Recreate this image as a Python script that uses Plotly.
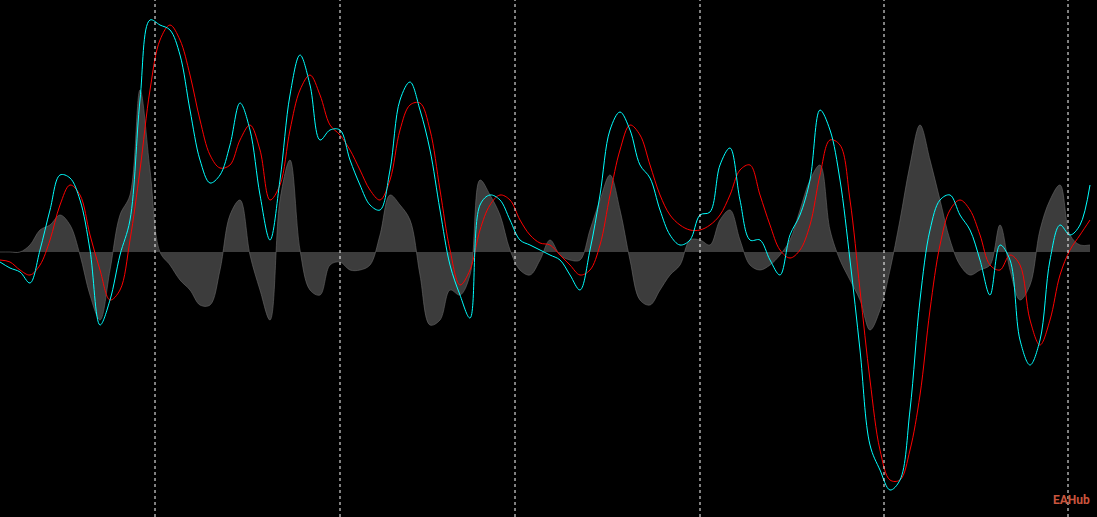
import plotly.graph_objects as go

x_idx = list(range(0, 110))
fast_px = [262,268,272,283,250,210,175,178,200,250,325,300,255,220,100,20,25,30,55,110,
           160,183,175,145,103,130,195,240,180,95,55,85,140,130,130,160,185,205,210,170,
           100,82,110,150,210,265,295,318,205,195,200,220,240,245,250,255,260,275,290,250,
           195,130,112,130,165,178,210,235,245,240,215,212,165,148,200,240,240,260,275,235,
           215,180,110,130,180,260,350,445,470,490,480,410,300,230,200,195,215,230,260,295,
           245,260,340,365,340,260,225,235,225,185]
slow_px = [260,262,270,275,265,240,205,185,195,235,270,300,290,240,170,90,40,25,40,75,
           120,155,168,165,140,125,150,200,185,130,90,75,95,125,135,150,170,190,200,180,
           130,105,103,130,190,250,285,270,230,205,195,200,220,235,243,245,255,265,275,270,
           245,195,150,125,135,165,195,215,225,230,230,225,215,195,170,165,195,225,250,258,
           250,225,175,140,145,200,290,380,450,480,480,450,395,310,245,210,200,210,235,265,
           270,255,265,320,345,320,275,250,235,220]
hist_px = [252,252,252,245,230,225,215,225,255,295,320,270,215,195,90,170,252,265,280,290,
           305,305,270,215,200,255,290,320,200,160,250,290,295,265,262,270,270,265,235,195,
           205,220,275,325,320,290,295,275,180,195,215,250,270,275,260,240,255,260,260,230,
           200,175,210,260,300,305,290,275,265,240,240,245,220,210,240,265,270,265,255,240,
           210,180,165,230,260,280,300,330,310,270,220,165,125,160,200,240,265,275,270,265,
           225,270,300,285,230,200,185,235,245,245]
grid_x = [15.5, 34.0, 51.5, 70.0, 88.4, 106.8]

fast = [252 - v for v in fast_px]
slow = [252 - v for v in slow_px]
hist = [252 - v for v in hist_px]

fig = go.Figure()
fig.add_trace(go.Scatter(x=x_idx, y=hist, fill="tozeroy", mode="lines",
                         line=dict(width=0.6, color="#6a6a6a", shape="spline"),
                         fillcolor="rgba(100,100,100,0.6)"))
fig.add_trace(go.Scatter(x=x_idx, y=slow, mode="lines",
                         line=dict(color="#ff0000", width=1, shape="spline")))
fig.add_trace(go.Scatter(x=x_idx, y=fast, mode="lines",
                         line=dict(color="#00ffff", width=1, shape="spline")))

for gx in grid_x:
    fig.add_vline(x=gx, line=dict(color="white", width=1, dash="dot"))

fig.add_annotation(text="<b>EAHub</b>", xref="paper", yref="paper", x=0.995, y=0.015,
                   xanchor="right", yanchor="bottom", showarrow=False,
                   font=dict(color="#c8553d", size=12, family="Roboto"))

fig.update_layout(width=1097, height=517, margin=dict(l=0, r=0, t=0, b=0),
                  paper_bgcolor="black", plot_bgcolor="black", showlegend=False,
                  xaxis=dict(range=[0, 109.7], visible=False),
                  yaxis=dict(range=[252 - 517, 252], visible=False))
fig.write_html("out.html", config={"displayModeBar": False},
               post_script="document.body.style.margin='0';document.body.style.background='black';")
